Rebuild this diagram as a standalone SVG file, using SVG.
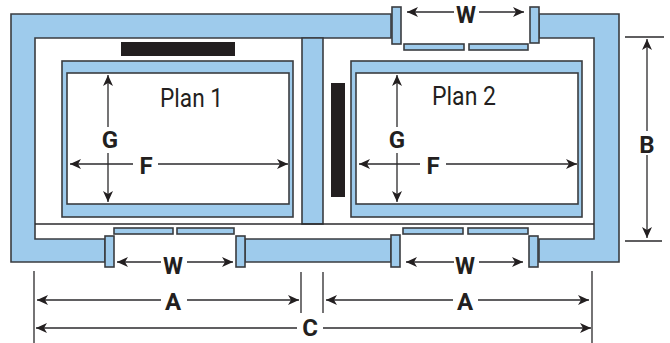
<svg xmlns="http://www.w3.org/2000/svg" width="670" height="343" viewBox="0 0 670 343">
<style>
.w{fill:#9ecbec;stroke:#3a3c40;stroke-width:1.6}
.bar{fill:#231f20}
.d{stroke:#2b2a2c;stroke-width:1.3;fill:none}
.a{stroke:#2b2a2c;stroke-width:1.3;fill:none;marker-end:url(#ah)}
.l{font-family:Roboto,"Liberation Sans",sans-serif;font-size:24px;font-weight:700;fill:#231f20;text-anchor:middle}
.p{font-family:Roboto,"Liberation Sans",sans-serif;font-size:25px;fill:#231f20;text-anchor:middle}
</style>
<defs><marker id="ah" markerUnits="userSpaceOnUse" markerWidth="12" markerHeight="12" refX="11" refY="5" orient="auto"><path d="M0 0L11 5L0 10L3 5Z" fill="#231f20"/></marker></defs>
<rect width="670" height="343" fill="#fff"/>
<g id="walls">
<path class="w" d="M11 14H391V38H35V239H105V262H11Z"/>
<path class="w" d="M245 239H391V262H245Z"/>
<path class="w" d="M539 14H619V262H539V239H594V38H539Z"/>
<path class="w" d="M302 38H323V224H302Z"/>
<path d="M35 224H594" class="d" style="stroke-width:1.6"/>
</g>
<g id="doors">
<rect class="w" x="105" y="236" width="9" height="31"/><rect class="w" x="236" y="236" width="9" height="31"/>
<rect class="w" x="391" y="235" width="9" height="32"/><rect class="w" x="529" y="236" width="9" height="31"/>
<rect class="w" x="392" y="7" width="9" height="37"/><rect class="w" x="530" y="7" width="9" height="36"/>
<rect class="w" x="404" y="44" width="60" height="6"/><rect class="w" x="469" y="44" width="59" height="6"/>
<rect class="w" x="114" y="228" width="59" height="6"/><rect class="w" x="177" y="228" width="57" height="6"/>
<rect class="w" x="403" y="228" width="60" height="6"/><rect class="w" x="468" y="228" width="60" height="6"/>
</g>
<g id="plan1"><rect class="w" x="62" y="61" width="231" height="156"/><rect x="67" y="73" width="222" height="131" fill="#fff" stroke="#3a3c40" stroke-width="1.6"/><text class="p" x="191.500" y="106.500" textLength="63" lengthAdjust="spacingAndGlyphs">Plan 1</text></g>
<g id="plan2"><rect class="w" x="351" y="61" width="231" height="156"/><rect x="356" y="73" width="222" height="131" fill="#fff" stroke="#3a3c40" stroke-width="1.6"/><text class="p" x="464" y="104.500" textLength="64" lengthAdjust="spacingAndGlyphs">Plan 2</text></g>
<g id="counters"><rect class="bar" x="121" y="42" width="114" height="14"/><rect class="bar" x="331" y="83" width="14" height="114"/></g>
<g id="connectors">
<path class="a" d="M108 127V75"/><path class="a" d="M108 153V202"/>
<path class="a" d="M133 164H70"/><path class="a" d="M158 164H288"/>
<path class="a" d="M397 127V75"/><path class="a" d="M397 153V202"/>
<path class="a" d="M420 164H359"/><path class="a" d="M446 164H577"/>
<path class="a" d="M454 12H407"/><path class="a" d="M479 12H524"/>
<path class="a" d="M161 262H117"/><path class="a" d="M187 262H233"/>
<path class="a" d="M454 262H406"/><path class="a" d="M479 262H523"/>
<path class="a" d="M161 300H37"/><path class="a" d="M187 300H299"/>
<path class="a" d="M453 300H326"/><path class="a" d="M478 300H589"/>
<path class="a" d="M297 328H36"/><path class="a" d="M323 328H591"/>
<path class="a" d="M647 131V39"/><path class="a" d="M647 155V238"/>
<path class="d" d="M625 37H664M625 241H662M34 271V343M592 271V343M301 272V313M323 272V313"/>
</g>
<g id="labels">
<text class="l" x="110" y="148">G</text><text class="l" x="146" y="174">F</text>
<text class="l" x="397" y="148">G</text><text class="l" x="433" y="174">F</text>
<text class="l" x="466" y="23" textLength="20" lengthAdjust="spacingAndGlyphs">W</text><text class="l" x="173" y="274" textLength="20" lengthAdjust="spacingAndGlyphs">W</text><text class="l" x="465" y="274" textLength="20" lengthAdjust="spacingAndGlyphs">W</text>
<text class="l" x="173" y="309.500">A</text><text class="l" x="465" y="309.500">A</text>
<text class="l" x="310" y="336">C</text><text class="l" x="647" y="153">B</text>
</g>
</svg>
